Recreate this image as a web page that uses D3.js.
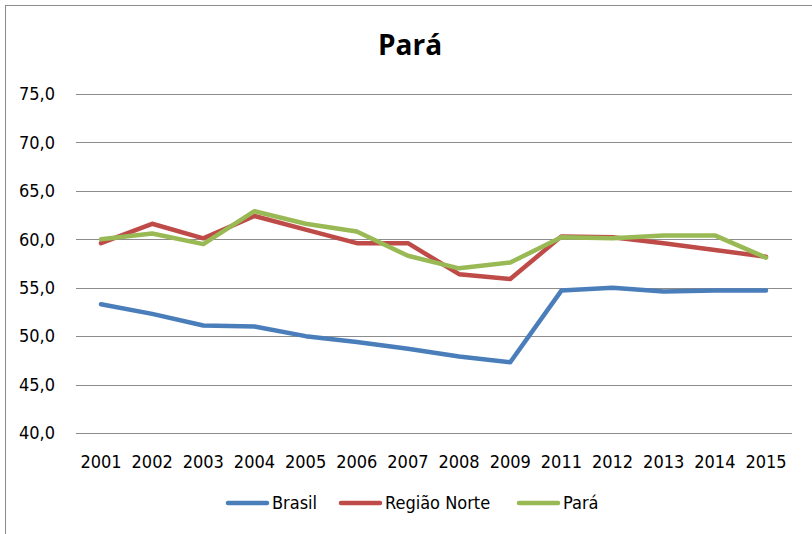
<!DOCTYPE html>
<html>
<head>
<meta charset="utf-8">
<script src="https://cdn.jsdelivr.net/npm/d3@7"></script>
<style>
  body { margin: 0; background: #fff; }
  text { font-family: "Liberation Sans Narrow", "DejaVu Sans Condensed", "Open Sans", sans-serif; fill: #000; }
</style>
</head>
<body>
<div id="chart"></div>
<script>
var years = ["2001","2002","2003","2004","2005","2006","2007","2008","2009","2011","2012","2013","2014","2015"];
var brasil = [53.3, 52.3, 51.1, 51.0, 50.0, 49.4, 48.7, 47.9, 47.3, 54.7, 55.0, 54.6, 54.7, 54.7];
var regiaoNorte = [59.6, 61.6, 60.1, 62.4, 61.0, 59.6, 59.6, 56.4, 55.9, 60.3, 60.2, 59.6, 58.9, 58.2];
var para = [60.0, 60.6, 59.5, 62.9, 61.6, 60.8, 58.3, 57.0, 57.6, 60.2, 60.1, 60.4, 60.4, 58.1];
var yTicks = [40, 45, 50, 55, 60, 65, 70, 75];

var series = [
  { name: "Brasil", values: brasil, color: "#4a7ebb" },
  { name: "Região Norte", values: regiaoNorte, color: "#be4b48" },
  { name: "Pará", values: para, color: "#98b954" }
];

var width = 812, height = 534;

var svg = d3.select("#chart")
    .append("svg")
    .attr("width", width)
    .attr("height", height);

// chart frame (only top/left visible in the original)
svg.append("rect")
    .attr("x", 5.5).attr("y", 5.5)
    .attr("width", 830).attr("height", 560)
    .style("fill", "none")
    .style("stroke", "#8c8c8c")
    .style("stroke-width", 1);

var x = d3.scalePoint()
    .domain(years)
    .range([101, 766]);

var y = d3.scaleLinear()
    .domain([40, 75])
    .range([433, 94]);

// gridlines
svg.append("g")
    .selectAll("line")
    .data(yTicks)
    .enter()
    .append("line")
    .attr("x1", 76).attr("x2", 792)
    .attr("y1", function(d){ return Math.round(y(d)) + 0.5; })
    .attr("y2", function(d){ return Math.round(y(d)) + 0.5; })
    .style("stroke", "#8c8c8c")
    .style("stroke-width", 1);

// y labels
svg.append("g")
    .selectAll("text")
    .data(yTicks)
    .enter()
    .append("text")
    .attr("x", 55)
    .attr("y", function(d){ return y(d); })
    .attr("dy", "0.35em")
    .attr("text-anchor", "end")
    .style("font-size", "18px")
    .text(function(d){ return d.toFixed(1).replace(".", ","); });

// x labels
svg.append("g")
    .selectAll("text")
    .data(years)
    .enter()
    .append("text")
    .attr("x", function(d){ return x(d); })
    .attr("y", 468)
    .attr("text-anchor", "middle")
    .style("font-size", "18px")
    .text(function(d){ return d; });

var line = d3.line()
    .x(function(d, i){ return x(years[i]); })
    .y(function(d){ return y(d); });

svg.append("g")
    .selectAll("path")
    .data(series)
    .enter()
    .append("path")
    .attr("d", function(d){ return line(d.values); })
    .style("fill", "none")
    .style("stroke", function(d){ return d.color; })
    .style("stroke-width", 4.5)
    .style("stroke-linejoin", "round")
    .style("stroke-linecap", "round");

// title
svg.append("text")
    .attr("x", 410).attr("y", 55)
    .attr("text-anchor", "middle")
    .style("font-family", "'Open Sans', sans-serif")
    .style("font-size", "28px")
    .style("font-weight", "bold")
    .text("Pará");

// legend
var legendX = [226, 339, 517];
var legend = svg.append("g");
series.forEach(function(s, i) {
    legend.append("line")
        .attr("x1", legendX[i] + 2).attr("x2", legendX[i] + 41)
        .attr("y1", 503).attr("y2", 503)
        .style("stroke", s.color)
        .style("stroke-width", 4.5)
        .style("stroke-linecap", "round");
    legend.append("text")
        .attr("x", legendX[i] + 46).attr("y", 503)
        .attr("dy", "0.35em")
        .style("font-size", "18px")
        .text(s.name);
});
</script>
</body>
</html>
